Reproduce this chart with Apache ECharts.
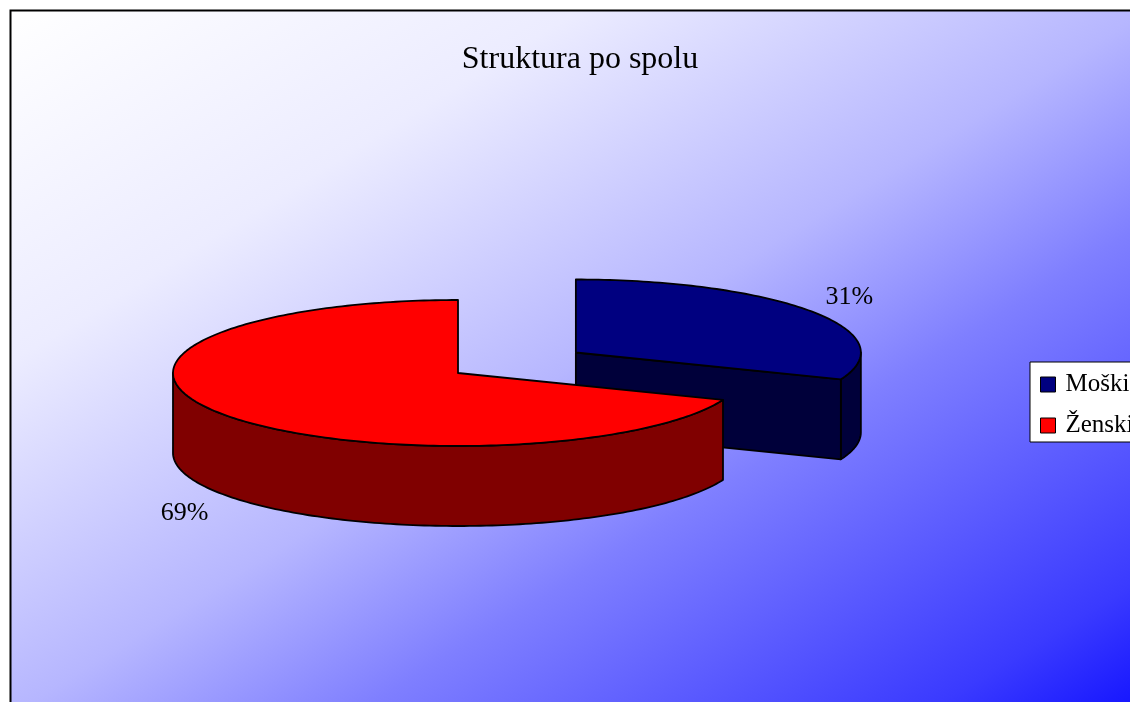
<!DOCTYPE html>
<html>
<head>
<meta charset="utf-8">
<script src="https://cdn.jsdelivr.net/npm/echarts@6/dist/echarts.min.js"></script>
<style>
html, body { margin: 0; padding: 0; background: #fff; }
#main { width: 1130px; height: 702px; }
</style>
</head>
<body>
<div id="main"></div>
<script>
var titleText = 'Struktura po spolu';
var categories = ['Moški', 'Ženski'];
var values = [31, 69];
var topColors = ['#000080', '#ff0000'];
var sideColors = ['#00003a', '#800000'];
var explode = [0.5, 0];

// geometry of the 3d pie (pixels)
var cx = 458, cy = 373, rx = 285, ry = 73, depth = 80;
var total = values.reduce(function (a, b) { return a + b; }, 0);

function pt(ox, oy, a, z) {
    return [ox + rx * Math.sin(a), oy - ry * Math.cos(a) + z];
}
function arc(ox, oy, a0, a1, z) {
    var n = Math.max(2, Math.ceil(Math.abs(a1 - a0) / 0.02));
    var pts = [];
    for (var i = 0; i <= n; i++) {
        pts.push(pt(ox, oy, a0 + (a1 - a0) * i / n, z));
    }
    return pts;
}

function renderSlice(idx) {
    return function (params, api) {
        var v = api.value(0);
        var before = 0;
        for (var k = 0; k < idx; k++) before += values[k];
        var start = before / total * Math.PI * 2;
        var end = start + v / total * Math.PI * 2;
        var mid = (start + end) / 2;
        var e = explode[idx];
        var ox = cx + e * rx * Math.sin(mid);
        var oy = cy - e * ry * Math.cos(mid);
        var line = { stroke: '#000', lineWidth: 1.8, lineJoin: 'round' };
        var children = [];

        // outer wall, only the part facing the viewer
        var s0 = Math.max(start, Math.PI / 2), s1 = Math.min(end, Math.PI * 1.5);
        if (s1 > s0) {
            var wall = arc(ox, oy, s0, s1, 0).concat(arc(ox, oy, s1, s0, depth));
            children.push({ type: 'polygon', shape: { points: wall },
                style: Object.assign({ fill: sideColors[idx] }, line) });
        }
        // cut faces
        if (Math.sin(end) > 1e-6) {
            var p = pt(ox, oy, end, 0);
            children.push({ type: 'polygon', shape: { points: [[ox, oy], p, [p[0], p[1] + depth], [ox, oy + depth]] },
                style: Object.assign({ fill: sideColors[idx] }, line) });
        }
        if (Math.sin(start) < -1e-6) {
            var q = pt(ox, oy, start, 0);
            children.push({ type: 'polygon', shape: { points: [[ox, oy], q, [q[0], q[1] + depth], [ox, oy + depth]] },
                style: Object.assign({ fill: sideColors[idx] }, line) });
        }
        // top face
        var topPts = [[ox, oy]].concat(arc(ox, oy, start, end, 0));
        children.push({ type: 'polygon', shape: { points: topPts },
            style: Object.assign({ fill: topColors[idx] }, line) });

        // percent label
        var kk = 1.16;
        var front = Math.cos(mid) < 0;
        children.push({
            type: 'text',
            style: {
                text: Math.round(v / total * 100) + '%',
                x: ox + kk * rx * Math.sin(mid),
                y: oy - kk * ry * Math.cos(mid) + (front ? depth : 5),
                fill: '#000',
                font: '26px "Liberation Serif"',
                align: 'center',
                verticalAlign: front ? 'top' : 'bottom'
            }
        });
        return { type: 'group', children: children };
    };
}

var series = categories.map(function (name, i) {
    return {
        name: name,
        type: 'custom',
        coordinateSystem: 'none',
        itemStyle: { color: topColors[i] },
        renderItem: renderSlice(i),
        data: [values[i]]
    };
});

var boxW = 1140, boxH = 705;
var option = {
    animation: false,
    title: {
        text: titleText,
        left: 575,
        top: 39,
        textAlign: 'center',
        textStyle: { fontFamily: 'Liberation Serif', fontSize: 32, fontWeight: 'normal', color: '#000' }
    },
    legend: {
        orient: 'vertical',
        left: 1030,
        top: 362,
        icon: 'rect',
        itemWidth: 15,
        itemHeight: 15,
        itemGap: 16,
        padding: [10, 10, 4, 10],
        backgroundColor: '#fff',
        borderColor: '#000',
        borderWidth: 1,
        itemStyle: { borderColor: '#000', borderWidth: 1 },
        textStyle: { fontFamily: 'Liberation Serif', fontSize: 25, color: '#000', padding: [0, 0, 0, 5] },
        data: categories
    },
    graphic: [
        {
            type: 'rect', x: 10, y: 10, z: -10, silent: true,
            scaleX: boxW / 100, scaleY: boxH / 100,
            shape: { x: 0, y: 0, width: 100, height: 100 },
            style: {
                fill: new echarts.graphic.LinearGradient(0, 0, 1, 1, [
                    { offset: 0, color: '#ffffff' },
                    { offset: 0.25, color: '#ececff' },
                    { offset: 0.5, color: '#b6b6ff' },
                    { offset: 0.65, color: '#7f7fff' },
                    { offset: 0.9, color: '#3a3aff' },
                    { offset: 1, color: '#1010ff' }
                ])
            }
        },
        {
            type: 'rect', z: -9, silent: true,
            shape: { x: 10.5, y: 10.5, width: boxW, height: boxH },
            style: { fill: null, stroke: '#000', lineWidth: 2 }
        }
    ],
    series: series
};

var myChart = echarts.init(document.getElementById('main'));
myChart.setOption(option);
</script>
</body>
</html>
